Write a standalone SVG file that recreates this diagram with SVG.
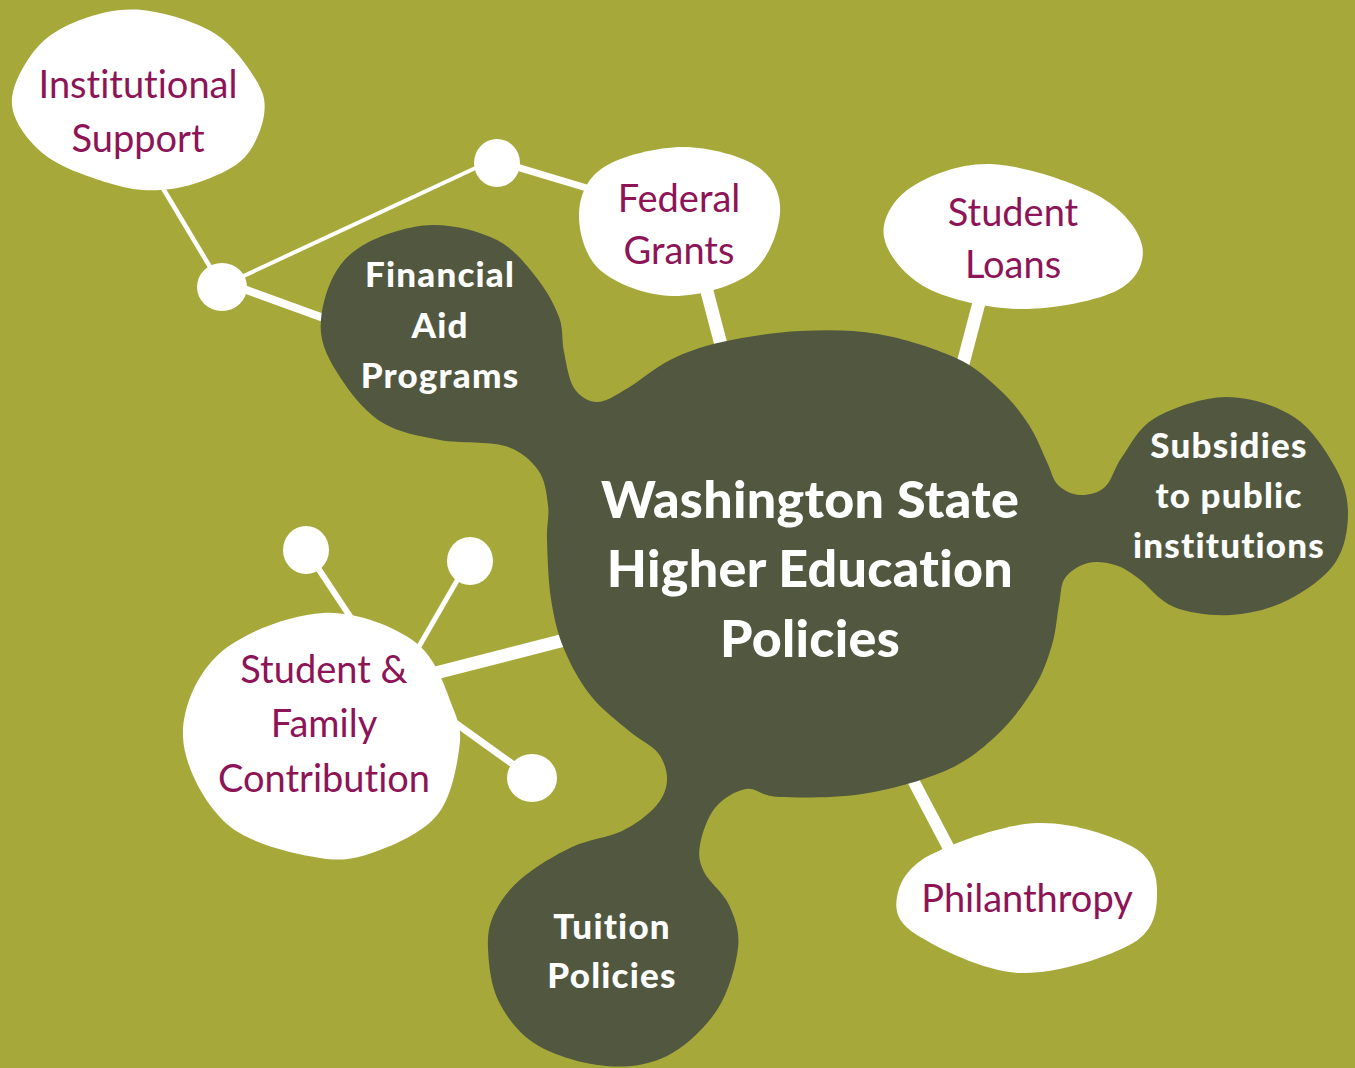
<svg xmlns="http://www.w3.org/2000/svg" width="1355" height="1068" viewBox="0 0 1355 1068">
<style>
.bg{fill:#A6A93A}
.dark{fill:#525840}
.light{fill:#FFFFFF}
.wire{stroke:#FFFFFF;fill:none;stroke-linecap:butt}
text{font-variant-ligatures:none;font-feature-settings:"liga" 0,"clig" 0,"dlig" 0}
.lbl{font-family:Lato,"Noto Sans","Liberation Sans",sans-serif;font-size:38px;fill:#8C1457;text-anchor:middle}
.wlbl{font-family:Lato,"Noto Sans","Liberation Sans",sans-serif;font-weight:900;font-size:35px;letter-spacing:1.2px;fill:#FFFFFF;text-anchor:middle}
.big{font-family:Lato,"Noto Sans","Liberation Sans",sans-serif;font-weight:900;font-size:52px;letter-spacing:0.3px;fill:#FFFFFF;text-anchor:middle}
</style>
<rect class="bg" x="0" y="0" width="1355" height="1068"/>
<g id="connectors">
<line class="wire" x1="158" y1="180" x2="222" y2="287" stroke-width="4.5"/>
<line class="wire" x1="222" y1="286" x2="497" y2="158" stroke-width="4"/>
<line class="wire" x1="222" y1="281" x2="340" y2="324" stroke-width="8"/>
<line class="wire" x1="497" y1="161" x2="600" y2="192" stroke-width="7"/>
<line class="wire" x1="704" y1="280" x2="725" y2="360" stroke-width="13"/>
<line class="wire" x1="981" y1="295" x2="960" y2="375" stroke-width="13"/>
<line class="wire" x1="905" y1="765" x2="955" y2="860" stroke-width="12"/>
<line class="wire" x1="420" y1="677" x2="580" y2="636" stroke-width="13"/>
<line class="wire" x1="310" y1="556" x2="355" y2="624" stroke-width="6"/>
<line class="wire" x1="462" y1="572" x2="410" y2="662" stroke-width="5"/>
<line class="wire" x1="440" y1="712" x2="532" y2="778" stroke-width="7"/>
</g>
<g id="dots">
<ellipse class="light" cx="222" cy="287" rx="25" ry="24"/>
<ellipse class="light" cx="497" cy="163" rx="23" ry="24"/>
<ellipse class="light" cx="306" cy="550" rx="23" ry="24"/>
<ellipse class="light" cx="470" cy="561" rx="23" ry="24"/>
<ellipse class="light" cx="532" cy="778" rx="25" ry="24"/>
</g>
<g id="hub-shape">
<path class="dark" d="M432,225 C453.7,224.5 479.7,231.3 497,240 C514.3,248.7 525.7,264.2 536,277 C546.3,289.8 554.3,304.5 559,317 C563.7,329.5 561.5,340.2 564,352 C566.5,363.8 568.5,379.7 574,388 C579.5,396.3 588,402 597,402 C606,402 615.8,395 628,388 C640.2,381 654.3,367.7 670,360 C685.7,352.3 700.3,346.8 722,342 C743.7,337.2 774,332.3 800,331 C826,329.7 852,329.5 878,334 C904,338.5 935.7,348.7 956,358 C976.3,367.3 987.8,378.8 1000,390 C1012.2,401.2 1021.2,413 1029,425 C1036.8,437 1042.2,452 1047,462 C1051.8,472 1052.5,479.5 1058,485 C1063.5,490.5 1072.2,494.7 1080,495 C1087.8,495.3 1098,493.3 1105,487 C1112,480.7 1113.7,468.5 1122,457 C1130.3,445.5 1137.7,428 1155,418 C1172.3,408 1202.8,397.2 1226,397 C1249.2,396.8 1275.8,405.3 1294,417 C1312.2,428.7 1326,451 1335,467 C1344,483 1348,497 1348,513 C1348,529 1345,548.5 1335,563 C1325,577.5 1305.3,591.3 1288,600 C1270.7,608.7 1250,613.8 1231,615 C1212,616.2 1189.5,613.2 1174,607 C1158.5,600.8 1147.8,585 1138,578 C1128.2,571 1123.3,567.5 1115,565 C1106.7,562.5 1096.3,560.8 1088,563 C1079.7,565.2 1069.8,571 1065,578 C1060.2,585 1061.2,593.8 1059,605 C1056.8,616.2 1056.2,631.2 1052,645 C1047.8,658.8 1043.2,673 1034,688 C1024.8,703 1011.8,721.2 997,735 C982.2,748.8 967.5,761.2 945,771 C922.5,780.8 889.7,789.7 862,794 C834.3,798.3 798.3,797.8 779,797 C759.7,796.2 756.7,787.2 746,789 C735.3,790.8 722.7,798.7 715,808 C707.3,817.3 701.8,834.3 700,845 C698.2,855.7 699.2,862 704,872 C708.8,882 723.3,892.3 729,905 C734.7,917.7 740,930.5 738,948 C736,965.5 728.8,992 717,1010 C705.2,1028 685.5,1046.7 667,1056 C648.5,1065.3 627.7,1067.8 606,1066 C584.3,1064.2 554.8,1055.7 537,1045 C519.2,1034.3 507.2,1018 499,1002 C490.8,986 488.7,964 488,949 C487.3,934 489.3,923.8 495,912 C500.7,900.2 509.2,888.8 522,878 C534.8,867.2 555.3,854.8 572,847 C588.7,839.2 608,837.8 622,831 C636,824.2 648.5,814.5 656,806 C663.5,797.5 666.7,788.8 667,780 C667.3,771.2 664.3,761.2 658,753 C651.7,744.8 640.2,740.5 629,731 C617.8,721.5 601.8,709.7 591,696 C580.2,682.3 570.7,665.2 564,649 C557.3,632.8 553.8,617.2 551,599 C548.2,580.8 547.5,555.7 547,540 C546.5,524.3 549.5,516.7 548,505 C546.5,493.3 545.2,479.8 538,470 C530.8,460.2 521.3,451 505,446 C488.7,441 460.3,443.8 440,440 C419.7,436.2 399,432.5 383,423 C367,413.5 354.3,398 344,383 C333.7,368 322.8,350.7 321,333 C319.2,315.3 325.3,292 333,277 C340.7,262 350.5,251.7 367,243 C383.5,234.3 410.3,225.5 432,225 Z"/>
</g>
<g id="node-center">
<text class="big" x="810" y="518">Washington State</text>
<text class="big" x="810" y="587">Higher Education</text>
<text class="big" x="810" y="657">Policies</text>
</g>
<g id="node-financial-aid">
<text class="wlbl" x="440" y="287">Financial</text>
<text class="wlbl" x="440" y="338">Aid</text>
<text class="wlbl" x="440" y="388">Programs</text>
</g>
<g id="node-subsidies">
<text class="wlbl" x="1229" y="458" font-size="34">Subsidies</text>
<text class="wlbl" x="1229" y="508" font-size="34">to public</text>
<text class="wlbl" x="1229" y="558" font-size="34">institutions</text>
</g>
<g id="node-tuition">
<text class="wlbl" x="612" y="939" font-size="34">Tuition</text>
<text class="wlbl" x="612" y="988" font-size="34">Policies</text>
</g>
<g id="node-institutional">
<path class="light" d="M142,10 C164.3,12.2 195,21.3 214,33 C233,44.7 247.7,66.3 256,80 C264.3,93.7 265.8,102.2 264,115 C262.2,127.8 254.8,146.2 245,157 C235.2,167.8 219.2,174.5 205,180 C190.8,185.5 175.5,189.3 160,190 C144.5,190.7 131.2,189.8 112,184 C92.8,178.2 61.7,168.2 45,155 C28.3,141.8 13.7,122.5 12,105 C10.3,87.5 23.7,64.2 35,50 C46.3,35.8 62.2,26.7 80,20 C97.8,13.3 119.7,7.8 142,10 Z"/>
<text class="lbl" x="138" y="98">Institutional</text>
<text class="lbl" x="138" y="152">Support</text>
</g>
<g id="node-federal">
<path class="light" d="M683,147 C708.7,147 741.8,156 758,167 C774.2,178 781.2,195.3 780,213 C778.8,230.7 769,259.2 751,273 C733,286.8 697.2,296.5 672,296 C646.8,295.5 615.5,283.8 600,270 C584.5,256.2 578.3,230.2 579,213 C579.7,195.8 586.7,178 604,167 C621.3,156 657.3,147 683,147 Z"/>
<text class="lbl" x="679" y="212">Federal</text>
<text class="lbl" x="679" y="264">Grants</text>
</g>
<g id="node-loans">
<path class="light" d="M991,164 C1022.2,165.2 1071.8,181.5 1097,195 C1122.2,208.5 1138.5,229.2 1142,245 C1145.5,260.8 1138.2,279.3 1118,290 C1097.8,300.7 1052.8,309.3 1021,309 C989.2,308.7 949.8,300 927,288 C904.2,276 886.8,253.7 884,237 C881.2,220.3 892.2,200.2 910,188 C927.8,175.8 959.8,162.8 991,164 Z"/>
<text class="lbl" x="1013" y="226">Student</text>
<text class="lbl" x="1013" y="278">Loans</text>
</g>
<g id="node-philanthropy">
<path class="light" d="M1037,823 C1070.8,821.7 1113,835.5 1133,847 C1153,858.5 1157,876 1157,892 C1157,908 1155.8,929.5 1133,943 C1110.2,956.5 1056,974.3 1020,973 C984,971.7 937.5,947.7 917,935 C896.5,922.3 894.8,910.3 897,897 C899.2,883.7 906.7,867.3 930,855 C953.3,842.7 1003.2,824.3 1037,823 Z"/>
<text class="lbl" x="1027" y="912">Philanthropy</text>
</g>
<g id="node-student-family">
<path class="light" d="M323,613 C355.5,611.2 393.3,626.2 415,642 C436.7,657.8 445.7,690 453,708 C460.3,726 461.5,732.3 459,750 C456.5,767.7 451.2,797.3 438,814 C424.8,830.7 399.7,842.7 380,850 C360.3,857.3 345.5,862.3 320,858 C294.5,853.7 249.8,844.2 227,824 C204.2,803.8 184.2,765.5 183,737 C181.8,708.5 196.7,673.7 220,653 C243.3,632.3 290.5,614.8 323,613 Z"/>
<text class="lbl" x="324" y="683">Student &amp;</text>
<text class="lbl" x="324" y="737">Family</text>
<text class="lbl" x="324" y="792">Contribution</text>
</g>
</svg>
